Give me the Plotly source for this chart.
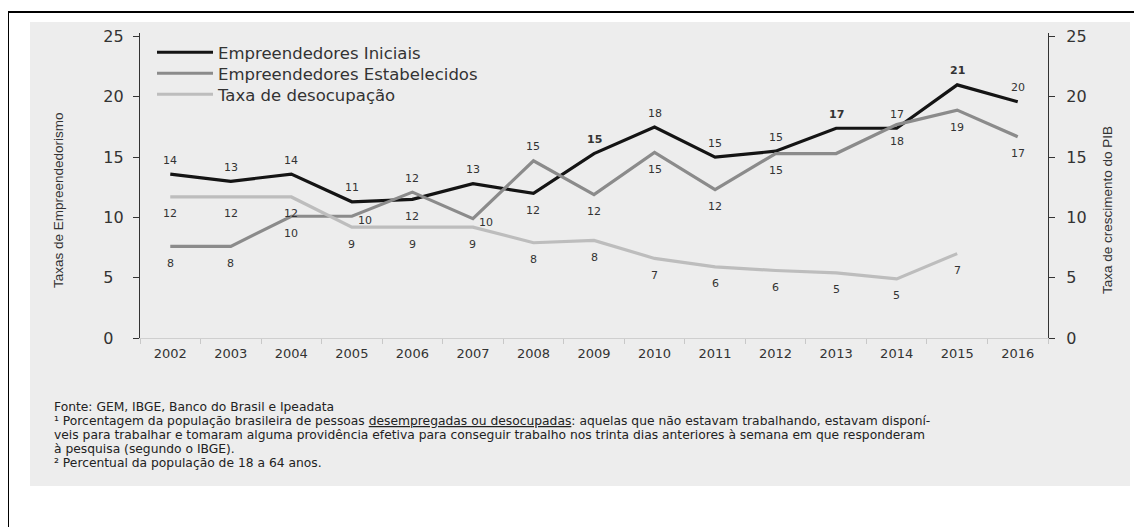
import plotly.graph_objects as go

# ---------------- data ----------------
years = ["2002", "2003", "2004", "2005", "2006", "2007", "2008", "2009",
         "2010", "2011", "2012", "2013", "2014", "2015", "2016"]

iniciais = [13.6, 13.0, 13.6, 11.3, 11.5, 12.8, 12.0, 15.3, 17.5, 15.0, 15.5, 17.4, 17.4, 21.0, 19.6]
iniciais_lbl = ["14", "13", "14", "11", "12", "13", "12", "15", "18", "15", "15", "17", "17", "21", "20"]

estabelecidos = [7.6, 7.6, 10.1, 10.1, 12.1, 9.9, 14.7, 11.9, 15.4, 12.3, 15.3, 15.3, 17.7, 18.9, 16.7]
estabelecidos_lbl = ["8", "8", "10", "10", "12", "10", "15", "12", "15", "12", "15", "", "18", "19", "17"]

desocupacao = [11.7, 11.7, 11.7, 9.2, 9.2, 9.2, 7.9, 8.1, 6.6, 5.9, 5.6, 5.4, 4.9, 7.0, None]
desocupacao_lbl = ["12", "12", "12", "9", "9", "9", "8", "8", "7", "6", "6", "5", "5", "7", ""]

y_tickvals = [0, 5, 10, 15, 20, 25]
y_ticktext_left = ["0\u2007", "5\u2007", "10", "15", "20", "25"]
y_ticktext_right = ["0", "5", "10", "15", "20", "25"]

# label placement (a = above, b = below, r = right)
iniciais_pos = ["a", "a", "a", "a", "b", "a", "b", "a", "a", "a", "a", "a", "a", "a", "a"]
estabelecidos_pos = ["b", "b", "b", "r", "a", "r", "a", "b", "b", "b", "b", "b", "b", "b", "b"]
desocupacao_pos = ["b"] * 15
iniciais_bold = [False] * 7 + [True, False, False, False, True, False, True, False]

# ---------------- layout helpers ----------------
OFF = 8                      # page body margin in the browser
W, H = 1142 - OFF, 527 - OFF
# plot area in screenshot pixels
SL, SR, ST, SB = 140, 1048, 33, 338
L, R, T, B = SL - OFF, SR - OFF, ST - OFF, SB - OFF
PW, PH = R - L, B - T


def px(x):   # screenshot x -> paper
    return (x - OFF - L) / PW


def py(y):   # screenshot y -> paper
    return (B - (y - OFF)) / PH


FONT = "DejaVu Sans"
TXT = "#333333"
C_INI = "#141414"
C_EST = "#8b8b8b"
C_DES = "#bdbdbd"

fig = go.Figure()
fig.add_trace(go.Scatter(x=years, y=iniciais, mode="lines", name="Empreendedores Iniciais",
                         line=dict(color=C_INI, width=3.2), hoverinfo="skip", legend="legend"))
fig.add_trace(go.Scatter(x=years, y=estabelecidos, mode="lines", name="Empreendedores Estabelecidos",
                         line=dict(color=C_EST, width=3.2), hoverinfo="skip", legend="legend2"))
fig.add_trace(go.Scatter(x=years, y=desocupacao, mode="lines", name="Taxa de desocupação",
                         line=dict(color=C_DES, width=3.2), hoverinfo="skip", yaxis="y2", legend="legend3"))

annotations = []


def add_labels(vals, lbls, pos, bold=None):
    for i, (v, t, p) in enumerate(zip(vals, lbls, pos)):
        if not t or v is None:
            continue
        if bold and bold[i]:
            t = "<b>" + t + "</b>"
        xs, ys = 0, 0
        if p == "a":
            ys = 14
        elif p == "b":
            ys = -17
        else:
            xs, ys = 13, -4
        annotations.append(dict(x=i, y=v, xref="x", yref="y", text=t, showarrow=False,
                                xshift=xs, yshift=ys, font=dict(family=FONT, size=11, color=TXT)))


add_labels(iniciais, iniciais_lbl, iniciais_pos, iniciais_bold)
add_labels(estabelecidos, estabelecidos_lbl, estabelecidos_pos)
add_labels(desocupacao, desocupacao_lbl, desocupacao_pos)

# axis titles
TFONT = dict(family="Liberation Sans", size=13.5, color=TXT)
annotations.append(dict(x=px(58), y=py(200), xref="paper", yref="paper", text="Taxas de Empreendedorismo",
                        textangle=-90, showarrow=False, xanchor="center", yanchor="middle", font=TFONT))
annotations.append(dict(x=px(1107), y=py(210), xref="paper", yref="paper", text="Taxa de crescimento do PIB",
                        textangle=-90, showarrow=False, xanchor="center", yanchor="middle", font=TFONT))

# footnotes
notes = [
    "Fonte: GEM, IBGE, Banco do Brasil e Ipeadata",
    "¹ Porcentagem da população brasileira de pessoas <span style='text-decoration:underline'>desempregadas ou desocupadas</span>: aquelas que não estavam trabalhando, estavam disponí-",
    "veis para trabalhar e tomaram alguma providência efetiva para conseguir trabalho nos trinta dias anteriores à semana em que responderam",
    "à pesquisa (segundo o IBGE).",
    "² Percentual da população de 18 a 64 anos.",
]
for k, line in enumerate(notes):
    annotations.append(dict(x=px(52), y=py(406.5 + 14.2 * k), xref="paper", yref="paper", text=line,
                            showarrow=False, xanchor="left", yanchor="middle", align="left",
                            font=dict(family=FONT, size=12.3, color="#222222")))

shapes = [
    dict(type="rect", xref="paper", yref="paper", x0=px(30), x1=px(1130), y0=py(486), y1=py(22),
         fillcolor="#ededed", line=dict(width=0), layer="below"),
    dict(type="rect", xref="paper", yref="paper", x0=px(8), x1=px(1160), y0=py(545), y1=py(12),
         fillcolor="rgba(0,0,0,0)", line=dict(color="#000000", width=2), layer="above"),
]


def legend_box(top):
    return dict(x=px(152), y=py(top), xanchor="left", yanchor="top", bgcolor="rgba(0,0,0,0)",
                font=dict(family=FONT, size=16.5, color=TXT), itemwidth=56)


fig.update_layout(
    width=W, height=H,
    margin=dict(l=L, r=W - R, t=T, b=H - B, pad=0),
    paper_bgcolor="white", plot_bgcolor="rgba(0,0,0,0)",
    font=dict(family=FONT, color=TXT),
    showlegend=True,
    legend=legend_box(35),
    legend2=legend_box(56),
    legend3=legend_box(77),
    xaxis=dict(type="category", range=[-0.5, 14.5], tickson="boundaries", ticks="outside", ticklen=5,
               tickcolor="#c8c8c8", showline=True, linecolor="#cfcfcf", linewidth=1, showgrid=False,
               zeroline=False, tickfont=dict(family=FONT, size=13, color=TXT), ticklabelstandoff=3,
               fixedrange=True),
    yaxis=dict(range=[0, 25.3], tickvals=y_tickvals, ticktext=y_ticktext_left, ticks="outside", ticklen=6,
               tickcolor="#333333", showline=True, linecolor="#333333", linewidth=1.2, showgrid=False,
               zeroline=False, tickfont=dict(family=FONT, size=16, color=TXT), ticklabelstandoff=6),
    yaxis2=dict(range=[0, 25.3], tickvals=y_tickvals, ticktext=y_ticktext_right, overlaying="y", side="right",
                ticks="outside", ticklen=6, tickcolor="#333333", showline=True, linecolor="#333333",
                linewidth=1.2, showgrid=False, zeroline=False,
                tickfont=dict(family=FONT, size=16, color=TXT), ticklabelstandoff=8),
    annotations=annotations,
    shapes=shapes,
)

fig.write_html("out.html")
